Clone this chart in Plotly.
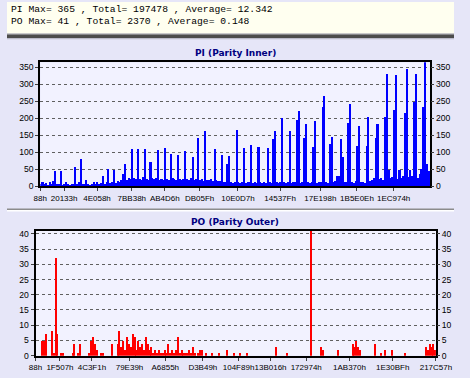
import plotly.graph_objects as go

W, H = 470, 378

# ---------------- data ----------------
header_lines = [
    "PI Max= 365 , Total= 197478 , Average= 12.342",
    "PO Max= 41 , Total= 2370 , Average= 0.148",
]
pi_title = "PI (Parity Inner)"
po_title = "PO (Parity Outer)"

pi_values = [
    4, 12, 3, 9, 2, 10, 3, 14, 45, 5,
    3, 45, 2, 4, 12, 3, 2, 5, 3, 56,
    6, 10, 80, 4, 3, 17, 4, 2, 6, 10,
    3, 12, 5, 8, 30, 6, 10, 51, 8, 12,
    46, 9, 14, 11, 16, 36, 65, 18, 22, 20,
    108, 24, 19, 108, 21, 18, 25, 108, 20, 17,
    70, 22, 19, 24, 105, 18, 21, 16, 113, 20,
    18, 94, 22, 19, 17, 92, 21, 18, 20, 104,
    19, 16, 22, 84, 18, 20, 142, 17, 19, 15,
    161, 18, 16, 20, 14, 108, 16, 13, 15, 92,
    12, 10, 63, 87, 11, 9, 12, 166, 10, 8,
    11, 113, 9, 12, 10, 120, 8, 11, 9, 116,
    10, 8, 12, 9, 113, 11, 8, 137, 161, 10,
    9, 12, 200, 10, 8, 11, 163, 9, 10, 12,
    195, 220, 9, 11, 142, 183, 10, 8, 12, 116,
    190, 9, 11, 10, 233, 266, 12, 9, 123, 144,
    10, 14, 28, 30, 137, 84, 12, 10, 185, 240,
    11, 9, 13, 118, 175, 10, 12, 9, 118, 204,
    14, 18, 22, 142, 182, 20, 24, 18, 204, 329,
    46, 22, 25, 223, 327, 20, 46, 24, 28, 214,
    345, 26, 48, 30, 247, 329, 22, 35, 50, 233,
    365, 65, 45,
]

po_values = [
    0, 0, 0, 5, 5, 7, 0, 0, 8, 1,
    32, 7, 0, 1, 1, 0, 0, 0, 0, 1,
    4, 0, 1, 4, 0, 0, 0, 0, 1, 5,
    6, 4, 2, 0, 1, 1, 0, 0, 0, 0,
    4, 0, 0, 4, 8, 3, 5, 2, 6, 4,
    3, 7, 6, 2, 5, 3, 4, 2, 6, 4,
    2, 3, 1, 2, 1, 2, 1, 1, 2, 1,
    4, 1, 2, 1, 2, 6, 1, 2, 1, 1,
    1, 2, 1, 3, 1, 0, 1, 2, 2, 0,
    1, 0, 0, 1, 0, 0, 0, 1, 0, 0,
    0, 2, 0, 0, 0, 1, 0, 0, 1, 0,
    0, 0, 1, 0, 0, 0, 0, 0, 0, 0,
    0, 0, 0, 0, 0, 0, 0, 3, 0, 0,
    0, 0, 0, 1, 0, 0, 0, 0, 0, 0,
    0, 0, 0, 0, 0, 0, 41, 0, 0, 0,
    0, 3, 2, 0, 0, 0, 0, 0, 0, 0,
    2, 0, 0, 0, 0, 0, 0, 0, 4, 3,
    5, 3, 2, 0, 0, 0, 0, 0, 0, 0,
    4, 0, 0, 1, 0, 2, 0, 0, 0, 2,
    0, 0, 0, 0, 0, 0, 1, 0, 0, 0,
    0, 0, 0, 0, 0, 0, 0, 3, 2, 4,
    3, 4, 2,
]

pi_tick_labels = ["88h", "20133h", "4E058h", "7BB38h", "AB4D6h", "DB05Fh",
                  "10E0D7h", "14537Fh", "17E198h", "1B5E0Eh", "1EC974h"]
pi_tick_index = [0, 13, 31, 50, 68, 87, 108, 131, 153, 173, 193]

po_tick_labels = ["88h", "1F507h", "4C3F1h", "79E39h", "A6855h", "D3B49h",
                  "104F89h", "13B016h", "172974h", "1AB370h", "1E30BFh", "217C57h"]
po_tick_index = [0, 13, 30, 50, 69, 89, 108, 125, 144, 167, 190, 213]

pi_max, po_max = 365, 41

# ---------------- layout helpers ----------------
def px(x):
    return x / W

def py(y):
    return 1 - y / H

PANEL_BG = "#E6E6F8"
PLOT_BG = "#F2F2FF"
HEAD_BG = "#FFFFF0"
Y_TICK_FONT = dict(family="Liberation Sans, Arial", size=8.6, color="#000000")
X_TICK_FONT = dict(family="Liberation Sans, Arial", size=8, color="#000000")

N_pi = len(pi_values)
N_po = len(po_values)

fig = go.Figure()
fig.add_trace(go.Bar(x=[i + 0.5 for i in range(N_pi)], y=pi_values, width=0.85,
                     marker=dict(color="#0000FF", line=dict(width=0)),
                     xaxis="x", yaxis="y", showlegend=False, hoverinfo="skip"))
fig.add_trace(go.Scatter(x=[0], y=[0], mode="markers", marker=dict(opacity=0),
                         xaxis="x", yaxis="y3", showlegend=False, hoverinfo="skip"))
fig.add_trace(go.Bar(x=[i + 0.5 for i in range(N_po)], y=po_values, width=0.7,
                     marker=dict(color="#FF0000", line=dict(width=0)),
                     xaxis="x2", yaxis="y2", showlegend=False, hoverinfo="skip"))
fig.add_trace(go.Scatter(x=[0], y=[0], mode="markers", marker=dict(opacity=0),
                         xaxis="x2", yaxis="y4", showlegend=False, hoverinfo="skip"))

# plot area pixel boxes
pi_box = dict(l=35, r=445, t=61.5, b=187.7)
po_box = dict(l=30, r=451, t=233.2, b=360.3)

def xaxis_cfg(box, tickvals, ticktext, n, anchor):
    return dict(domain=[px(box["l"]), px(box["r"])], range=[0, n], anchor=anchor,
                tickmode="array", tickvals=tickvals, ticktext=ticktext,
                tickangle=0,
                ticks="outside", ticklen=3, tickcolor="#404040", tickwidth=1,
                tickfont=X_TICK_FONT, showgrid=False, zeroline=False,
                showline=True, linecolor="#000000", linewidth=2, mirror=True,
                fixedrange=True)

def yaxis_cfg(box, ymax, dtick, anchor):
    return dict(domain=[py(box["b"]), py(box["t"])], range=[0, ymax],
                tickmode="linear", tick0=0, dtick=dtick,
                ticks="outside", ticklen=3, tickcolor="#404040",
                tickfont=Y_TICK_FONT, showgrid=True, gridcolor="#606060",
                griddash="3px,3px", gridwidth=1, zeroline=False,
                showline=True, linecolor="#000000", linewidth=2, mirror=True,
                anchor=anchor, fixedrange=True)

def yaxis_right(ymax, dtick, over, anchor):
    return dict(overlaying=over, side="right", anchor=anchor, range=[0, ymax],
                tickmode="linear", tick0=0, dtick=dtick,
                ticks="outside", ticklen=3, tickcolor="#404040",
                tickfont=Y_TICK_FONT, showgrid=False, zeroline=False,
                showline=False, fixedrange=True)

shapes = [
    dict(type="rect", xref="paper", yref="paper", x0=0, x1=1, y0=py(32), y1=1,
         fillcolor=HEAD_BG, line=dict(width=0), layer="below"),
    dict(type="rect", xref="paper", yref="paper", x0=0, x1=1, y0=py(33), y1=py(32),
         fillcolor="#A0A0A0", line=dict(width=0), layer="below"),
    dict(type="rect", xref="paper", yref="paper", x0=0, x1=1, y0=py(37), y1=py(33),
         fillcolor="#4C4C4C", line=dict(width=0), layer="below"),
    dict(type="rect", xref="paper", yref="paper", x0=0, x1=1, y0=py(38), y1=py(37),
         fillcolor="#B8B8C8", line=dict(width=0), layer="below"),
    dict(type="rect", xref="paper", yref="paper", x0=0, x1=1, y0=py(212), y1=py(210.5),
         fillcolor="#8C8C8C", line=dict(width=0), layer="below"),
    dict(type="rect", xref="paper", yref="paper", x0=0, x1=1, y0=py(213.5), y1=py(212),
         fillcolor="#FFFFFF", line=dict(width=0), layer="below"),
]

annotations = [
    dict(text=header_lines[0], x=px(2), y=py(7.5), xref="paper", yref="paper",
         xanchor="left", yanchor="middle", showarrow=False,
         font=dict(family="Liberation Mono, Courier New", size=9.7, color="#000000")),
    dict(text=header_lines[1], x=px(2), y=py(19.5), xref="paper", yref="paper",
         xanchor="left", yanchor="middle", showarrow=False,
         font=dict(family="Liberation Mono, Courier New", size=9.7, color="#000000")),
    dict(text="<b>" + pi_title + "</b>", x=px(240), y=py(52), xref="paper", yref="paper",
         xanchor="center", yanchor="middle", showarrow=False,
         font=dict(family="DejaVu Sans, Verdana", size=9, color="#000080")),
    dict(text="<b>" + po_title + "</b>", x=px(240), y=py(224), xref="paper", yref="paper",
         xanchor="center", yanchor="middle", showarrow=False,
         font=dict(family="DejaVu Sans, Verdana", size=9, color="#000080")),
]

fig.update_layout(
    width=W, height=H, autosize=False,
    margin=dict(l=0, r=0, t=0, b=0, pad=0),
    paper_bgcolor=PANEL_BG, plot_bgcolor=PLOT_BG,
    bargap=0, showlegend=False,
    xaxis=xaxis_cfg(pi_box, pi_tick_index, pi_tick_labels, N_pi, "y"),
    yaxis=yaxis_cfg(pi_box, pi_max, 50, "x"),
    yaxis3=yaxis_right(pi_max, 50, "y", "x"),
    xaxis2=xaxis_cfg(po_box, po_tick_index, po_tick_labels, N_po, "y2"),
    yaxis2=yaxis_cfg(po_box, po_max, 5, "x2"),
    yaxis4=yaxis_right(po_max, 5, "y2", "x2"),
    shapes=shapes,
    annotations=annotations,
)

fig.write_html("out.html", config={"displayModeBar": False},
               post_script="document.body.style.margin='0';document.body.style.overflow='hidden';")
